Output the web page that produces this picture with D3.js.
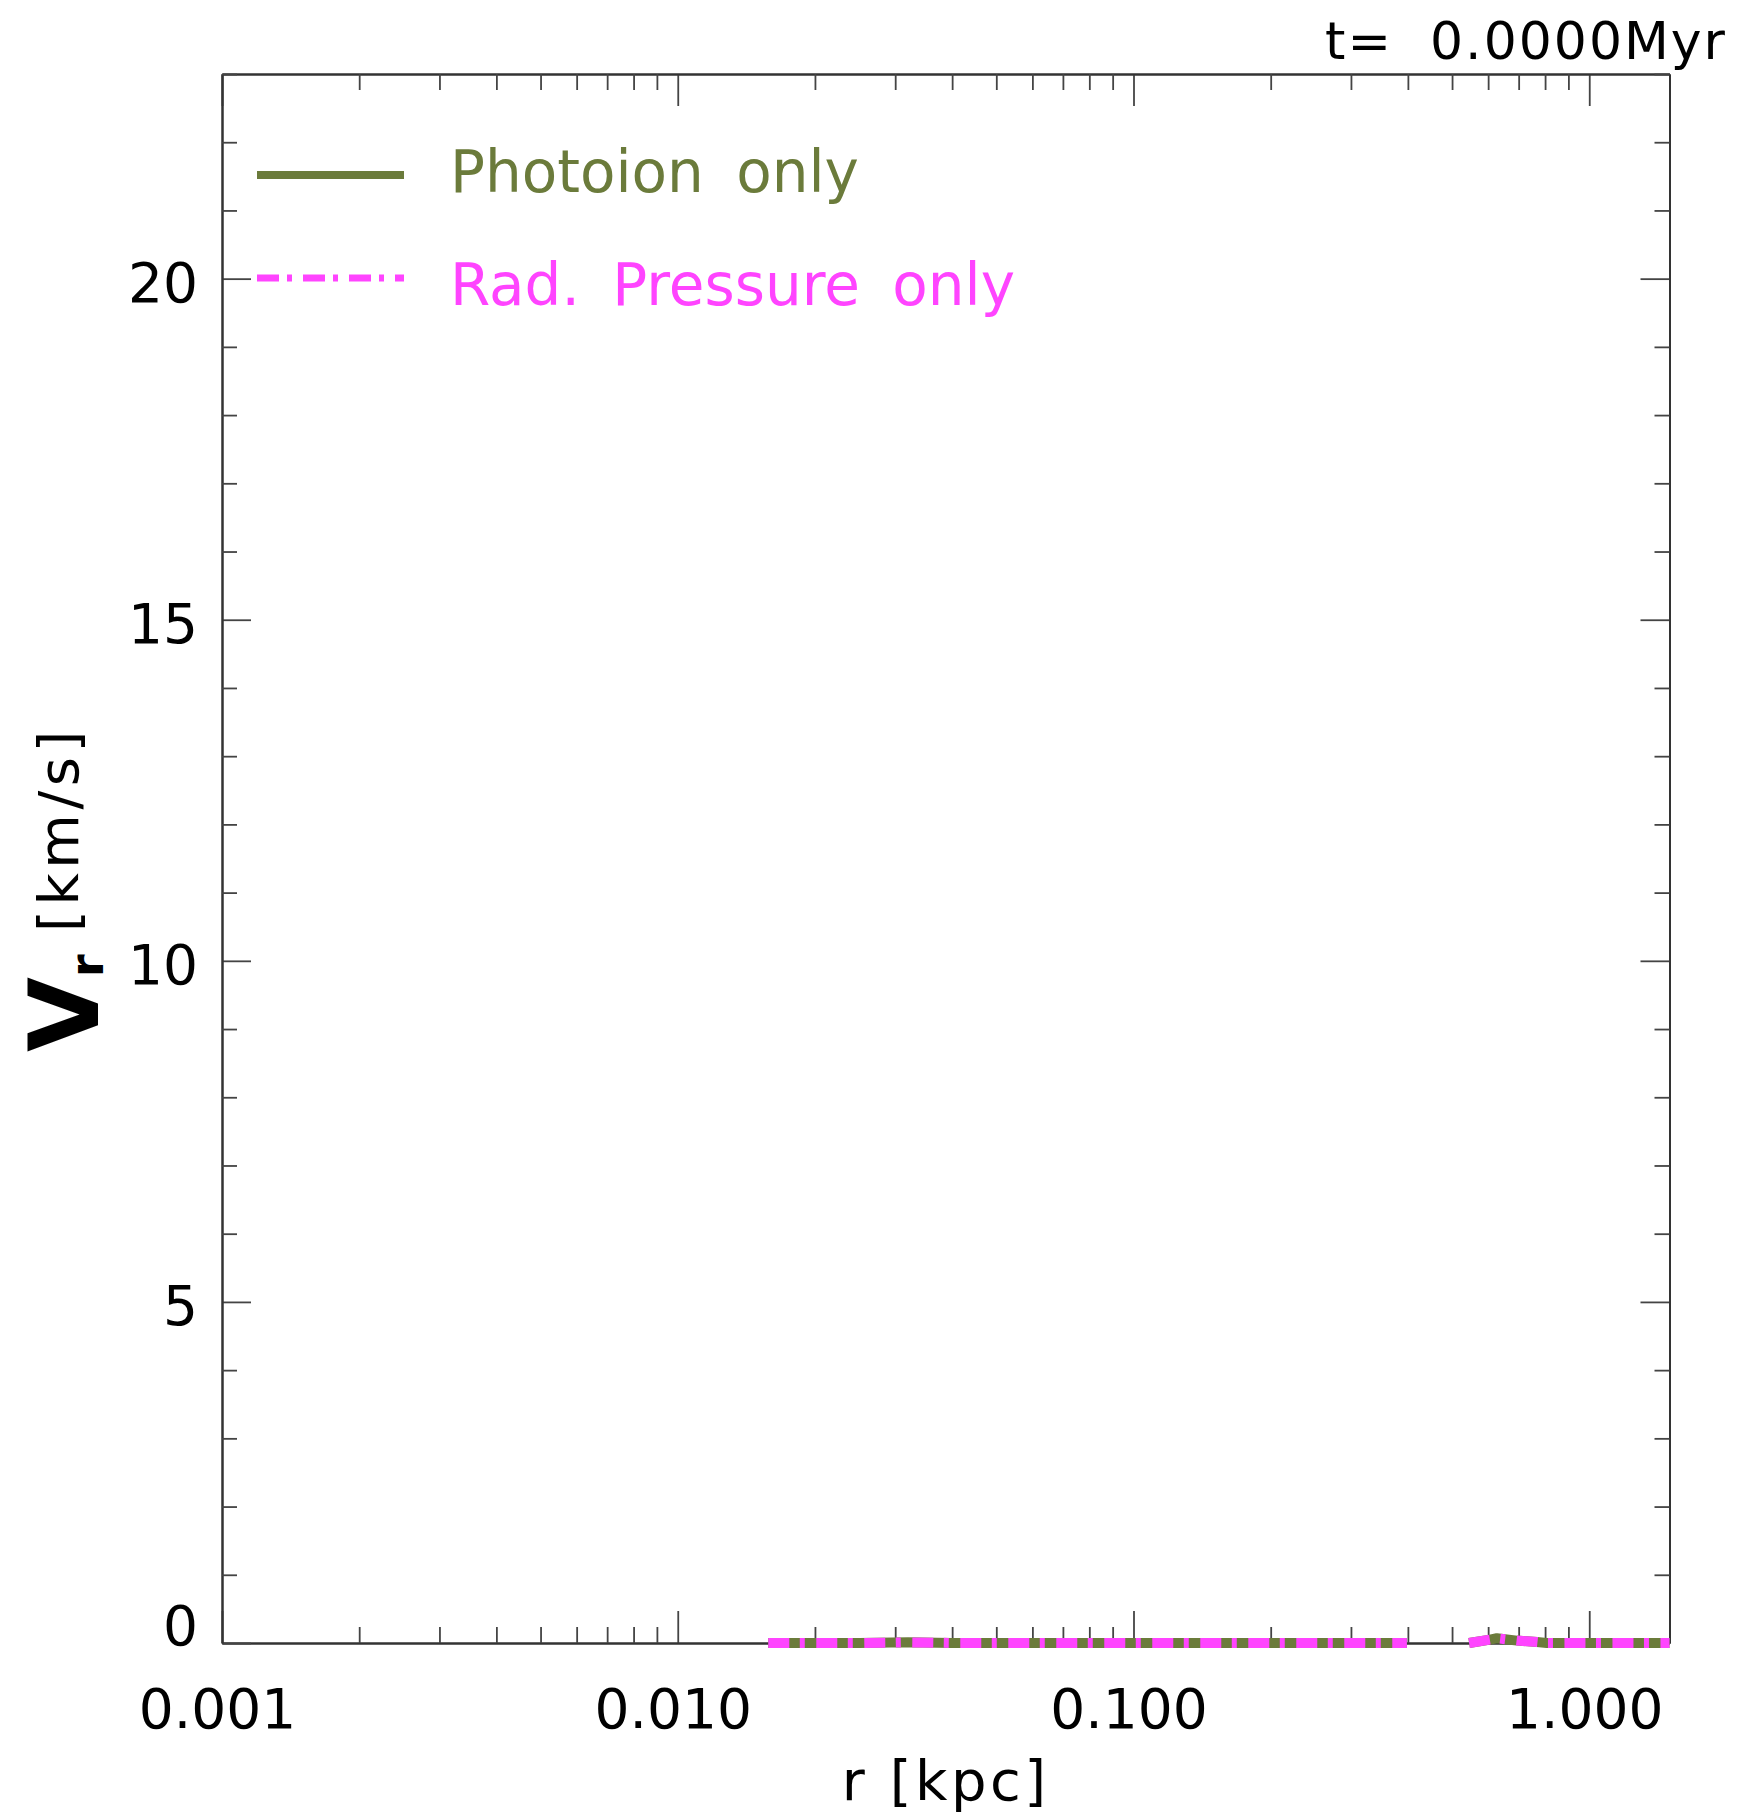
<!DOCTYPE html>
<html>
<head>
<meta charset="utf-8">
<script src="https://cdn.jsdelivr.net/npm/d3@7/dist/d3.min.js"></script>
<style>
  html, body { margin: 0; padding: 0; background: #fff; }
  svg { display: block; font-family: "DejaVu Sans", sans-serif; }
  text { white-space: pre; }
</style>
</head>
<body>
<script>
// Radial velocity profile at t = 0: both runs are still at rest.
// null marks radii where the velocity lies below the plotted range.
const rKpc = [0.0158, 0.020, 0.025, 0.032, 0.040, 0.050, 0.063, 0.079, 0.100, 0.126,
              0.158, 0.200, 0.251, 0.316, 0.398, 0.470, 0.545, 0.606, 0.627, 0.694,
              0.768, 0.807, 0.900, 1.000, 1.150, 1.300, 1.500];
const vPhotoion = [0.00, 0.00, 0.00, 0.01, 0.00, 0.00, 0.00, 0.00, 0.00, 0.00,
                   0.00, 0.00, 0.00, 0.00, 0.00, null, 0.00, 0.05, 0.07, 0.035,
                   0.015, 0.00, 0.00, 0.00, 0.00, 0.00, 0.00];
const vRadPressure = [0.00, 0.00, 0.00, 0.01, 0.00, 0.00, 0.00, 0.00, 0.00, 0.00,
                      0.00, 0.00, 0.00, 0.00, 0.00, null, 0.00, 0.05, 0.07, 0.035,
                      0.015, 0.00, 0.00, 0.00, 0.00, 0.00, 0.00];

const seriesNames = ["Photoion only", "Rad. Pressure only"];
const seriesColors = ["#6b7b3b", "#ff44ff"];

const xMajorTicks = [0.001, 0.01, 0.1, 1];
const xTickLabels = ["0.001", "0.010", "0.100", "1.000"];
const yMajorTicks = [0, 5, 10, 15, 20];
const yTickLabels = ["0", "5", "10", "15", "20"];
const xDomain = [0.001, 1.5];
const yDomain = [0, 23];
const titleText = "t=  0.0000Myr";

const W = 1742, H = 1819;
const plot = { left: 222, right: 1669.5, top: 74, bottom: 1643 };

const svg = d3.select("body").append("svg").attr("width", W).attr("height", H);

const x = d3.scaleLog().domain(xDomain).range([plot.left, plot.right]);
const y = d3.scaleLinear().domain(yDomain).range([plot.bottom, plot.top]);

// minor ticks: 2..9 in every decade, and every integer in velocity
const xMinorTicks = [];
xMajorTicks.forEach(d => { for (let k = 2; k <= 9; k++) { const v = d * k; if (v <= xDomain[1]) xMinorTicks.push(v); } });
const yMinorTicks = d3.range(yDomain[0], yDomain[1] + 1).filter(v => !yMajorTicks.includes(v));

const axisColor = "#333";
function styleAxis(g) {
  g.select(".domain").attr("stroke", axisColor).attr("stroke-width", 2);
  g.selectAll(".tick line").attr("stroke", "#444").attr("stroke-width", 1.8);
}

// bottom
const gB = svg.append("g").attr("transform", `translate(0,${plot.bottom})`);
gB.call(d3.axisBottom(x).tickValues(xMajorTicks).tickSize(-32).tickSizeOuter(0)
  .tickFormat((d, i) => xTickLabels[i]).tickPadding(85))
  .call(styleAxis);
gB.selectAll(".tick text").attr("dy", null).attr("dx", -5).attr("fill", "#000")
  .attr("font-size", 55).attr("font-family", "DejaVu Sans, sans-serif");
svg.append("g").attr("transform", `translate(0,${plot.bottom})`)
  .call(d3.axisBottom(x).tickValues(xMinorTicks).tickSize(-16).tickSizeOuter(0).tickFormat(""))
  .call(styleAxis);

// top
svg.append("g").attr("transform", `translate(0,${plot.top})`)
  .call(d3.axisTop(x).tickValues(xMajorTicks).tickSize(-32).tickSizeOuter(0).tickFormat(""))
  .call(styleAxis);
svg.append("g").attr("transform", `translate(0,${plot.top})`)
  .call(d3.axisTop(x).tickValues(xMinorTicks).tickSize(-16).tickSizeOuter(0).tickFormat(""))
  .call(styleAxis);

// left
const gL = svg.append("g").attr("transform", `translate(${plot.left},0)`);
gL.call(d3.axisLeft(y).tickValues(yMajorTicks).tickSize(-29).tickSizeOuter(0)
  .tickFormat((d, i) => yTickLabels[i]).tickPadding(24))
  .call(styleAxis);
gL.selectAll(".tick text").attr("dy", null).attr("fill", "#000")
  .attr("y", d => d === 0 ? 1 : 23)
  .attr("font-size", 55).attr("font-family", "DejaVu Sans, sans-serif");
svg.append("g").attr("transform", `translate(${plot.left},0)`)
  .call(d3.axisLeft(y).tickValues(yMinorTicks).tickSize(-15).tickSizeOuter(0).tickFormat(""))
  .call(styleAxis);

// right
svg.append("g").attr("transform", `translate(${plot.right},0)`)
  .call(d3.axisRight(y).tickValues(yMajorTicks).tickSize(-29).tickSizeOuter(0).tickFormat(""))
  .call(styleAxis);
svg.append("g").attr("transform", `translate(${plot.right},0)`)
  .call(d3.axisRight(y).tickValues(yMinorTicks).tickSize(-15).tickSizeOuter(0).tickFormat(""))
  .call(styleAxis);

// profiles
const line = d3.line()
  .defined(d => d.v !== null)
  .x(d => x(d.r))
  .y(d => y(d.v));

const photoData = rKpc.map((r, i) => ({ r, v: vPhotoion[i] }));
const radData = rKpc.map((r, i) => ({ r, v: vRadPressure[i] }));

svg.append("path").datum(photoData).attr("d", line)
  .attr("fill", "none").attr("stroke", seriesColors[0]).attr("stroke-width", 10)
  .attr("stroke-linejoin", "round");
svg.append("path").datum(radData).attr("d", line)
  .attr("fill", "none").attr("stroke", seriesColors[1]).attr("stroke-width", 10)
  .attr("stroke-dasharray", "21,10.5,5,11.5").attr("stroke-linejoin", "round");

// legend
const legendY = [175, 278];
const legendTextY = [192, 305];
const dashes = [null, "22,8,5,11"];
seriesNames.forEach((name, i) => {
  svg.append("line").attr("x1", 257).attr("x2", 404)
    .attr("y1", legendY[i]).attr("y2", legendY[i])
    .attr("stroke", seriesColors[i]).attr("stroke-width", i === 0 ? 8 : 7)
    .attr("stroke-dasharray", dashes[i]);
  svg.append("text").attr("x", 450).attr("y", legendTextY[i])
    .attr("fill", seriesColors[i]).attr("font-size", 58)
    .attr("word-spacing", 14)
    .text(name);
});

// time stamp
svg.append("text").attr("x", 1727).attr("y", 59).attr("text-anchor", "end")
  .attr("font-size", 52).attr("letter-spacing", 2).attr("fill", "#000")
  .text(titleText);

// x title
svg.append("text").attr("x", (plot.left + plot.right) / 2).attr("y", 1800)
  .attr("text-anchor", "middle").attr("font-size", 56).attr("letter-spacing", 3.5)
  .attr("fill", "#000").text("r [kpc]");

// y title: bold V with subscript r, then units
const yt = svg.append("text").attr("transform", "translate(98,1052) rotate(-90)")
  .attr("fill", "#000");
yt.append("tspan").attr("font-size", 97).attr("font-weight", "bold").text("V");
yt.append("tspan").attr("font-size", 46).attr("font-weight", "bold").attr("dy", 5).text("r");
yt.append("tspan").attr("font-size", 56).attr("dy", -25).attr("letter-spacing", 4.5).text(" [km/s]");
</script>
</body>
</html>
